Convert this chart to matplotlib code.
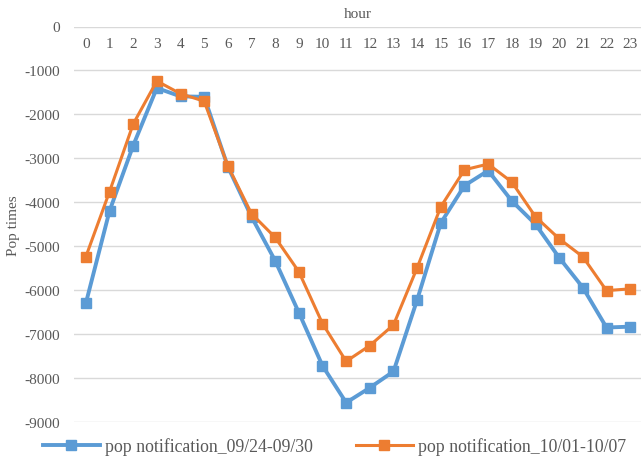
import matplotlib.pyplot as plt

hours = list(range(24))
pop_0924_0930 = [-6300, -4200, -2710, -1400, -1590, -1600, -3190, -4330, -5330, -6510,
                 -7720, -8560, -8220, -7850, -6220, -4470, -3620, -3280, -3970, -4500,
                 -5260, -5940, -6850, -6830]
pop_1001_1007 = [-5240, -3760, -2220, -1240, -1530, -1700, -3170, -4260, -4800, -5580,
                 -6760, -7620, -7260, -6790, -5490, -4100, -3260, -3130, -3540, -4330,
                 -4830, -5240, -6010, -5970]
yticks = list(range(0, -9001, -1000))

plt.rcParams["font.family"] = "Liberation Serif"
grey = "#595959"

fig = plt.figure(figsize=(6.41, 4.60), dpi=100)
ax = fig.add_axes([74 / 641, 1 - 423 / 460, (642 - 74) / 641, (423 - 27.5) / 460])

ax.plot(hours, pop_0924_0930, color="#5B9BD5", lw=2.8, marker="s", ms=7,
        label="pop notification_09/24-09/30")
ax.plot(hours, pop_1001_1007, color="#ED7D31", lw=2.2, marker="s", ms=7,
        label="pop notification_10/01-10/07")

ax.set_xlim(-0.5, 23.5)
ax.set_ylim(-9000, 0)
ax.set_yticks(yticks)
ax.set_yticklabels([str(v) for v in yticks])
ax.set_xticks(hours)
ax.grid(axis="y", color="#D9D9D9", lw=1)
ax.set_axisbelow(True)
for s in ax.spines.values():
    s.set_visible(False)
ax.axhline(0, color="#BFBFBF", lw=1.2, zorder=0)

ax.tick_params(axis="y", length=0, labelsize=11, labelcolor=grey, pad=10)
ax.tick_params(axis="x", length=0, labelsize=11, labelcolor=grey,
               bottom=False, labelbottom=False, top=False, labeltop=True, pad=-17)
ax.xaxis.set_label_position("top")
ax.set_xlabel("hour", fontsize=11, color=grey, labelpad=7)
ax.set_ylabel("Pop times", fontsize=11, color=grey, labelpad=3)

fig.legend(loc="lower center", ncol=2, frameon=False, fontsize=12.8,
           bbox_to_anchor=(0.522, -0.026), columnspacing=2.4, handlelength=3.2,
           handletextpad=0.3, labelcolor=grey)

fig.savefig("out.png", dpi=100)
